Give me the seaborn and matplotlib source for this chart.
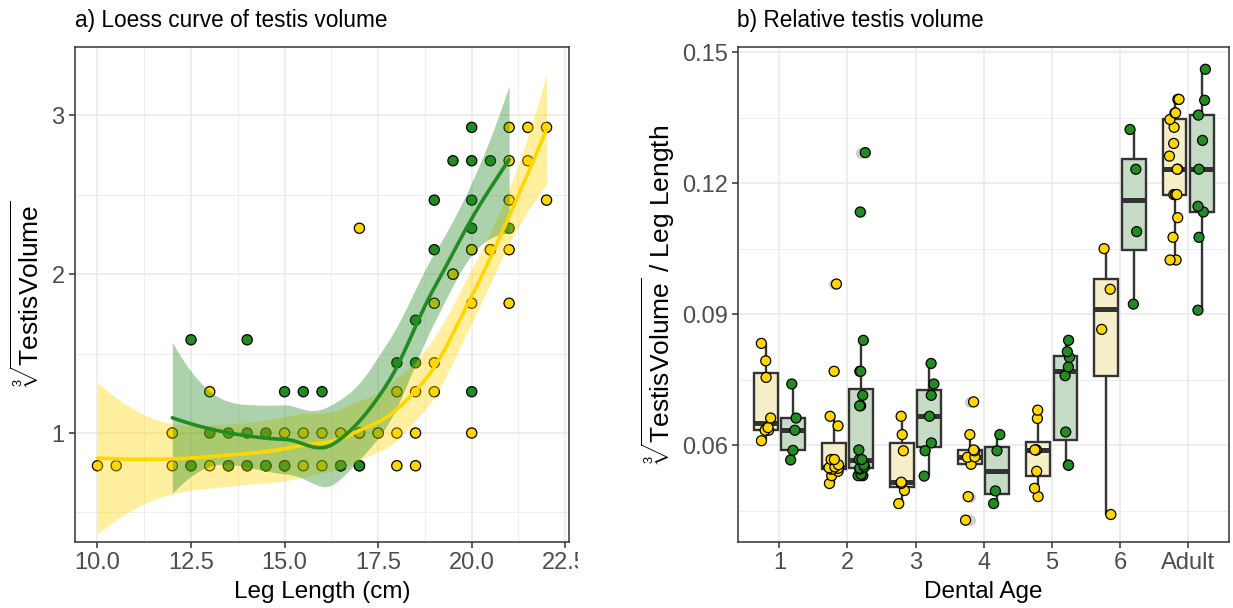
import numpy as np
import pandas as pd
import matplotlib
matplotlib.use("Agg")
import matplotlib.pyplot as plt
import seaborn as sns
from matplotlib.ticker import MultipleLocator
from matplotlib.transforms import Bbox, TransformedBbox

sns.set_theme(style="white")
plt.rcParams["font.family"] = ["Liberation Sans", "DejaVu Sans"]
plt.rcParams["mathtext.fontset"] = "custom"
plt.rcParams["mathtext.rm"] = "Liberation Sans"
plt.rcParams["mathtext.it"] = "Liberation Sans:italic"

YELLOW = "#FFD700"
GREEN = "#228B22"
GROUPS = ["Group A", "Group B"]
POINT_COLORS = {"Group A": YELLOW, "Group B": GREEN}
BOX_FILLS = {"Group A": "#FFF2C2", "Group B": "#C2DEC2"}

# ---------------- panel a data: leg length (cm) vs cube root of testis volume
leg_a = [10.0, 10.5, 12.0, 12.0, 12.5, 13.0, 13.0, 13.5, 14.0, 14.5, 15.0, 15.0,
         15.5, 15.5, 16.0, 16.0, 16.5, 16.5, 17.0, 17.0, 17.0, 17.5, 18.0, 18.0,
         18.0, 18.5, 18.5, 18.5, 19.0, 19.0, 19.0, 19.5, 19.5, 20.0, 20.0, 20.0,
         20.0, 20.5, 20.5, 21.0, 21.0, 21.0, 21.0, 21.0, 21.5, 21.5, 22.0, 22.0]
vol_a = [0.794, 0.794, 0.794, 1.0, 0.794, 0.794, 1.26, 0.794, 0.794, 0.794, 0.794, 1.0,
         0.794, 1.0, 0.794, 1.0, 0.794, 1.0, 0.794, 1.0, 2.289, 1.0, 0.794, 1.0,
         1.26, 0.794, 1.0, 1.26, 1.26, 1.442, 1.817, 2.0, 2.0, 1.0, 1.817, 2.154,
         2.154, 2.154, 2.154, 1.817, 2.154, 2.466, 2.714, 2.924, 2.714, 2.924, 2.466, 2.924]
leg_b = [12.0, 12.5, 12.5, 13.0, 13.5, 13.5, 13.5, 14.0, 14.0, 14.0, 14.5, 14.5,
         14.5, 15.0, 15.0, 15.0, 15.5, 16.0, 16.5, 16.5, 17.0, 17.0, 17.5, 18.0,
         18.5, 18.5, 19.0, 19.0, 19.5, 20.0, 20.0, 20.0, 20.0, 20.0, 20.5, 21.0]
vol_b = [1.0, 0.794, 1.587, 1.0, 0.794, 0.794, 1.0, 0.794, 1.0, 1.587, 0.794, 0.794,
         1.0, 0.794, 0.794, 1.26, 1.26, 1.26, 0.794, 0.794, 0.794, 1.0, 1.0, 1.442,
         1.442, 1.71, 2.154, 2.466, 2.714, 1.26, 2.289, 2.466, 2.714, 2.924, 2.714, 2.289]

# ---------------- panel b data: relative testis volume by dental age
ages = ["1", "2", "3", "4", "5", "6", "Adult"]
age1_a = [0.0610, 0.0634, 0.0634, 0.0640, 0.0662, 0.0755, 0.0793, 0.0833]
age1_b = [0.0566, 0.0588, 0.0634, 0.0662, 0.0740]
age2_a = [0.0512, 0.0530, 0.0540, 0.0545, 0.0545, 0.0547, 0.0548, 0.0550, 0.0555,
          0.0567, 0.0567, 0.0644, 0.0666, 0.0769, 0.0969]
age2_b = [0.0530, 0.0530, 0.0530, 0.0533, 0.0545, 0.0547, 0.0547, 0.0550, 0.0555,
          0.0567, 0.0567, 0.0589, 0.0690, 0.0690, 0.0714, 0.0769, 0.0769, 0.0840,
          0.1134, 0.1270]
age3_a = [0.0466, 0.0496, 0.0512, 0.0515, 0.0587, 0.0624, 0.0666]
age3_b = [0.0529, 0.0587, 0.0605, 0.0666, 0.0714, 0.0740, 0.0787]
age4_a = [0.0428, 0.0482, 0.0556, 0.0572, 0.0573, 0.0587, 0.0589, 0.0624, 0.0699]
age4_b = [0.0466, 0.0495, 0.0587, 0.0624]
age5_a = [0.0482, 0.0501, 0.0540, 0.0589, 0.0589, 0.0589, 0.0661, 0.0680]
age5_b = [0.0554, 0.0554, 0.0630, 0.0759, 0.0779, 0.0801, 0.0814, 0.0840]
age6_a = [0.0441, 0.0865, 0.0957, 0.1050]
age6_b = [0.0923, 0.1089, 0.1232, 0.1323]
adult_a = [0.1024, 0.1024, 0.1076, 0.1121, 0.1174, 0.1174, 0.1174, 0.1232, 0.1232,
           0.1262, 0.1291, 0.1328, 0.1346, 0.1361, 0.1361, 0.1392, 0.1392]
adult_b = [0.0909, 0.1076, 0.1134, 0.1147, 0.1232, 0.1298, 0.1356, 0.1390, 0.1461]


# ---------------- loess like R's loess(): degree 2, span 0.75, tricube weights,
# evaluated on kd-tree vertices and joined by cubic Hermite interpolation
def local_rows(x, x0, q):
    n = len(x)
    d = np.abs(x - x0)
    h = max(np.sort(d)[q - 1], 1e-9)
    u = np.clip(d / h, 0, 1)
    w = (1 - u ** 3) ** 3
    X = np.column_stack([np.ones(n), x - x0, (x - x0) ** 2])
    XtW = X.T * w
    B = np.linalg.solve(XtW @ X, XtW)
    return B[0], B[1]


def kd_vertices(x, span, cell=0.2):
    xs = np.sort(x)
    fc = int(np.floor(len(x) * span * cell))
    lo, hi = xs[0], xs[-1]
    mu = 0.005 * (hi - lo)
    verts = {lo - mu, hi + mu}

    def split(l, u, a, b):
        if u - l + 1 <= fc:
            return
        m = (l + u) // 2
        v = 0.5 * (xs[m] + xs[m + 1])
        if v <= a or v >= b:
            return
        verts.add(v)
        split(l, m, a, v)
        split(m + 1, u, v, b)

    split(0, len(xs) - 1, lo - mu, hi + mu)
    return np.array(sorted(verts))


def interp_rows(x, pts, span=0.75):
    x = np.asarray(x, float)
    q = int(np.floor(len(x) * span))
    V = kd_vertices(x, span)
    vals, slopes = zip(*[local_rows(x, v, q) for v in V])
    vals, slopes = np.array(vals), np.array(slopes)
    out = []
    for p in pts:
        i = int(np.clip(np.searchsorted(V, p) - 1, 0, len(V) - 2))
        a, b = V[i], V[i + 1]
        hw = b - a
        t = (p - a) / hw
        h00 = 2 * t ** 3 - 3 * t ** 2 + 1
        h10 = t ** 3 - 2 * t ** 2 + t
        h01 = -2 * t ** 3 + 3 * t ** 2
        h11 = t ** 3 - t ** 2
        out.append(h00 * vals[i] + h10 * hw * slopes[i] + h01 * vals[i + 1] + h11 * hw * slopes[i + 1])
    return np.array(out)


def t975(df):
    z = 1.959964
    g1 = (z ** 3 + z) / 4
    g2 = (5 * z ** 5 + 16 * z ** 3 + 3 * z) / 96
    g3 = (3 * z ** 7 + 19 * z ** 5 + 17 * z ** 3 - 15 * z) / 384
    return z + g1 / df + g2 / df ** 2 + g3 / df ** 3


def loess_fit(x, y, ngrid=80):
    x = np.asarray(x, float)
    y = np.asarray(y, float)
    n = len(x)
    L = interp_rows(x, x)
    R = np.eye(n) - L
    RtR = R.T @ R
    d1 = np.trace(RtR)
    d2 = np.trace(RtR @ RtR)
    s = np.sqrt(np.sum((R @ y) ** 2) / d1)
    grid = np.linspace(x.min(), x.max(), ngrid)
    G = interp_rows(x, grid)
    fit = G @ y
    se = s * np.sqrt(np.sum(G ** 2, axis=1))
    t = t975(d1 ** 2 / d2)
    return grid, fit, fit - t * se, fit + t * se


pts = pd.DataFrame({
    "leg": leg_a + leg_b,
    "vol": vol_a + vol_b,
    "group": ["Group A"] * len(leg_a) + ["Group B"] * len(leg_b),
})
# drawing order: on the lowest row the green points lie on top, elsewhere the yellow ones
pts["order"] = np.where(pts["vol"] < 0.9, pts["group"] == "Group B", pts["group"] == "Group A").astype(int)
pts = pts.sort_values("order", kind="stable")

fits = []
for g, lx, ly in [("Group A", leg_a, vol_a), ("Group B", leg_b, vol_b)]:
    gx, gf, glo, ghi = loess_fit(lx, ly)
    fits.append(pd.DataFrame({"leg": gx, "fit": gf, "lo": glo, "hi": ghi, "group": g}))
fits = pd.concat(fits, ignore_index=True)

rel_lists = {
    "1": (age1_a, age1_b), "2": (age2_a, age2_b), "3": (age3_a, age3_b),
    "4": (age4_a, age4_b), "5": (age5_a, age5_b), "6": (age6_a, age6_b),
    "Adult": (adult_a, adult_b),
}
rows = []
for age in ages:
    va, vb = rel_lists[age]
    rows += [(age, "Group A", v) for v in va]
    rows += [(age, "Group B", v) for v in vb]
rel = pd.DataFrame(rows, columns=["age", "group", "rel"])

# ---------------- figure
W, H = 1233, 608
fig = plt.figure(figsize=(W / 100, H / 100), dpi=100)
ax1 = fig.add_axes([75 / W, 1 - 542 / H, 494 / W, 495 / H])
ax2 = fig.add_axes([738.5 / W, 1 - 542 / H, 490.5 / W, 495 / H])

BORDER = "#333333"
GRID = "#EBEBEB"
TICKLAB = "#4D4D4D"
FS_TICK = 17
FS_LAB = 17.5
FS_YLAB = 19


def style(ax):
    ax.set_axisbelow(True)
    for sp in ax.spines.values():
        sp.set_color(BORDER)
        sp.set_linewidth(1.1)
        sp.set_visible(True)
    ax.tick_params(which="major", direction="out", length=4.5, width=1.1,
                   color=BORDER, labelcolor=TICKLAB, labelsize=FS_TICK, pad=3,
                   bottom=True, left=True)
    ax.tick_params(which="minor", length=0)
    ax.set_facecolor("white")


# ---- panel a
sns.scatterplot(data=pts, x="leg", y="vol", hue="group", palette=POINT_COLORS,
                s=54, edgecolor="black", linewidth=0.9, ax=ax1, zorder=2, legend=False)
for g in GROUPS:
    f = fits[fits.group == g]
    ax1.fill_between(f["leg"], f["lo"], f["hi"], color=POINT_COLORS[g], alpha=0.38,
                     linewidth=0, zorder=3)
sns.lineplot(data=fits, x="leg", y="fit", hue="group", palette=POINT_COLORS,
             linewidth=2.6, ax=ax1, legend=False, zorder=4)

style(ax1)
ax1.set_xlim(9.4, 22.6)
ax1.set_ylim(0.314, 3.43)
ax1.set_xticks([10.0, 12.5, 15.0, 17.5, 20.0, 22.5])
ax1.set_xticklabels(["10.0", "12.5", "15.0", "17.5", "20.0", "22.5"])
ax1.xaxis.set_minor_locator(MultipleLocator(1.25))
ax1.set_yticks([1, 2, 3])
ax1.yaxis.set_minor_locator(MultipleLocator(0.5))
ax1.grid(which="major", color=GRID, linewidth=1.2)
ax1.grid(which="minor", color=GRID, linewidth=0.6)
ax1.set_xlabel("Leg Length (cm)", fontsize=FS_LAB, color="black", labelpad=5)
ax1.set_ylabel(r"$\sqrt[3]{\mathrm{TestisVolume}}$", fontsize=FS_YLAB, color="black")
ax1.yaxis.set_label_coords(-0.063, 0.5)

# ---- panel b
np.random.seed(7)
sns.boxplot(data=rel, x="age", y="rel", hue="group", order=ages, hue_order=GROUPS,
            palette=BOX_FILLS, width=0.8, gap=0.12, linecolor=BORDER, linewidth=1.7,
            showcaps=False, whis=1.5,
            flierprops=dict(marker="o", markerfacecolor="#C8C8C8",
                            markeredgecolor="#C8C8C8", markersize=7, alpha=0.8),
            medianprops=dict(linewidth=3.6, color=BORDER),
            legend=False, ax=ax2)
sns.stripplot(data=rel, x="age", y="rel", hue="group", order=ages, hue_order=GROUPS,
              palette=POINT_COLORS, dodge=True, jitter=0.15, size=7.2,
              linewidth=0.9, edgecolor="black", legend=False, ax=ax2, zorder=3)

style(ax2)
ax2.set_xlim(-0.6, 6.6)
ax2.set_ylim(0.0378, 0.1512)
ax2.set_yticks([0.06, 0.09, 0.12, 0.15])
ax2.set_yticklabels(["0.06", "0.09", "0.12", "0.15"])
ax2.yaxis.set_minor_locator(MultipleLocator(0.015))
ax2.grid(axis="y", which="major", color=GRID, linewidth=1.2)
ax2.grid(axis="y", which="minor", color=GRID, linewidth=0.6)
ax2.grid(axis="x", which="major", color=GRID, linewidth=1.2)
ax2.set_xlabel("Dental Age", fontsize=FS_LAB, color="black", labelpad=5)
ax2.set_ylabel(r"$\sqrt[3]{\mathrm{TestisVolume}}\ /\ \mathrm{Leg\ Length}$",
               fontsize=FS_YLAB, color="black")
ax2.yaxis.set_label_coords(-0.125, 0.5)

fig.text(75 / W, 1 - 20 / H, "a) Loess curve of testis volume", fontsize=16.3,
         ha="left", va="center", color="black")
fig.text(737 / W, 1 - 20 / H, "b) Relative testis volume", fontsize=16.3,
         ha="left", va="center", color="black")

# the left panel's last tick label is cut at the panel edge in the original
clip = TransformedBbox(Bbox([[0, 0], [578 / W, 1]]), fig.transFigure)
for lbl in ax1.get_xticklabels():
    lbl.set_clip_on(True)
    lbl.set_clip_box(clip)

fig.savefig("out.png", dpi=100)
